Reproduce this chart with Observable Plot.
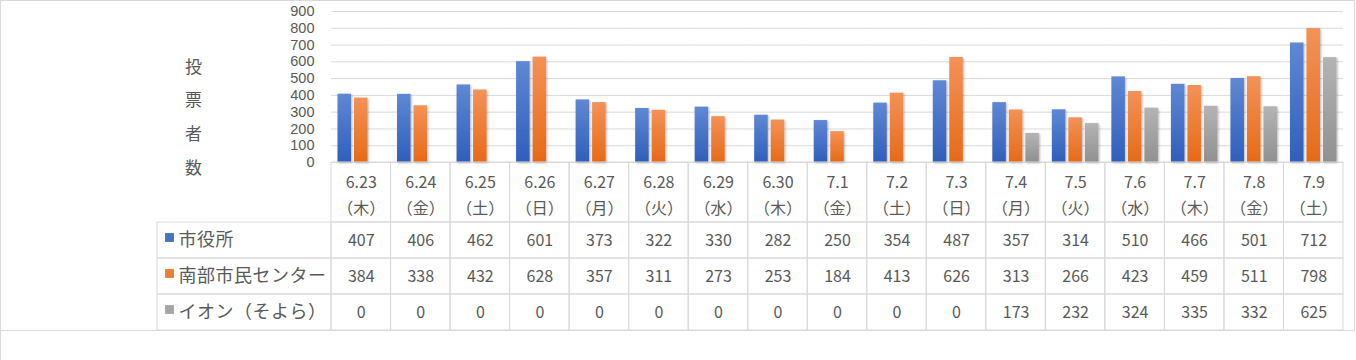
<!DOCTYPE html>
<html>
<head>
<meta charset="utf-8">
<script src="https://cdn.jsdelivr.net/npm/d3@7"></script>
<script src="https://cdn.jsdelivr.net/npm/@observablehq/plot@0.6"></script>
<style>
  html, body { margin: 0; padding: 0; background: #fff; }
  #wrap { position: relative; width: 1356px; height: 360px; background: #fff; overflow: hidden;
          font-family: "Noto Sans CJK JP", "Noto Sans", sans-serif; color: #595959; }
  #wrap > div.part { position: absolute; }
  #wrap svg { overflow: visible; }
  .border { position: absolute; left: 0; top: 0; width: 1355px; height: 331px; box-sizing: border-box;
            border: 1px solid #d9d9d9; }
  .border2 { position: absolute; left: 0; top: 330px; width: 1px; height: 30px; background: #d9d9d9; }
</style>
</head>
<body>
<div id="wrap">
  <div class="border"></div>
  <div class="border2"></div>
</div>
<script>
const dates = ["6.23","6.24","6.25","6.26","6.27","6.28","6.29","6.30","7.1","7.2","7.3","7.4","7.5","7.6","7.7","7.8","7.9"];
const weekdays = ["木","金","土","日","月","火","水","木","金","土","日","月","火","水","木","金","土"];
const seriesNames = ["市役所","南部市民センター","イオン（そよら）"];
const shiyakusho = [407,406,462,601,373,322,330,282,250,354,487,357,314,510,466,501,712];
const nanbu = [384,338,432,628,357,311,273,253,184,413,626,313,266,423,459,511,798];
const aeon = [0,0,0,0,0,0,0,0,0,0,0,173,232,324,335,332,625];
const yTicks = [0,100,200,300,400,500,600,700,800,900];
const axisTitle = "投票者数";

const baseColors = ["#4472C4","#ED7D31","#A5A5A5"];
const gradTop = ["#5F88D4","#F39257","#B4B4B4"];
const gradBottom = ["#2F5EBB","#E66A17","#909090"];

const seriesValues = [shiyakusho, nanbu, aeon];
const rows = [];
seriesNames.forEach((s, si) => dates.forEach((d, di) => rows.push({date: d, series: s, value: seriesValues[si][di], si})));

const font = '"Noto Sans CJK JP", "Noto Sans", sans-serif';
const tickFont = '"Liberation Sans", Arial, sans-serif';
const textColor = "#595959";
const gridColor = "#d9d9d9";
const wrap = document.getElementById("wrap");

function place(el, left, top) {
  const div = document.createElement("div");
  div.className = "part";
  div.style.left = left + "px";
  div.style.top = top + "px";
  div.appendChild(el);
  wrap.appendChild(div);
}

// Chart
const chart = Plot.plot({
  width: 1356, height: 180,
  marginLeft: 331, marginRight: 13, marginTop: 11, marginBottom: 18,
  style: {fontFamily: font, fontSize: "15px", color: textColor, background: "transparent", overflow: "visible"},
  fx: {domain: dates, paddingInner: 0, paddingOuter: 0, round: false, axis: null},
  x: {domain: seriesNames, paddingInner: 0.1818, paddingOuter: 0.394, round: false, axis: null},
  y: {domain: [0, 900], axis: null},
  marks: [
    Plot.gridY(yTicks, {stroke: gridColor, strokeOpacity: 1, strokeWidth: 1}),
    ...seriesNames.map((s, si) => Plot.barY(rows.filter(r => r.si === si), {
      fx: "date", x: "series", y: "value", fill: `url(#grad${si})`
    })),
    Plot.axisY(yTicks, {tickSize: 0, tickPadding: 17, fontSize: 14.5, fontFamily: tickFont, fill: textColor, label: null}),
    Plot.text([{fx: dates[0]}], {fx: "fx", text: () => axisTitle.split("").join("\n"),
      frameAnchor: "left", textAnchor: "middle", dx: -138, dy: 25.5, lineHeight: 1.99, fontSize: 17, fill: textColor})
  ]
});
const defs = d3.select(chart).insert("defs", ":first-child");
gradTop.forEach((c, i) => {
  const g = defs.append("linearGradient").attr("id", `grad${i}`).attr("x1", 0).attr("y1", 0).attr("x2", 0).attr("y2", 1);
  g.append("stop").attr("offset", "0%").attr("stop-color", c);
  g.append("stop").attr("offset", "100%").attr("stop-color", gradBottom[i]);
});
const f = defs.append("filter").attr("id", "shadow").attr("x", "-30%").attr("y", "-10%").attr("width", "160%").attr("height", "120%");
f.append("feDropShadow").attr("dx", 1).attr("dy", 1).attr("stdDeviation", 1.2).attr("flood-color", "#000").attr("flood-opacity", 0.3);
d3.select(chart).selectAll('g[aria-label="bar"] rect').attr("filter", "url(#shadow)");
place(chart, 0, 0);

// Header row (dates)
const header = Plot.plot({
  width: 1012, height: 60, margin: 0,
  style: {fontFamily: font, fontSize: "16px", color: textColor, background: "transparent", overflow: "visible"},
  x: {domain: dates, padding: 0, round: false, axis: null},
  marks: [
    Plot.cell(dates, {x: d => d, stroke: gridColor, fill: "none"}),
    Plot.text(dates, {x: d => d, text: (d, i) => `${d}\n（${weekdays[i]}）`, lineHeight: 1.625, fontSize: 16, fill: textColor})
  ]
});
place(header, 331, 162);

// Table body
const body = Plot.plot({
  width: 1012, height: 108, margin: 0,
  style: {fontFamily: font, fontSize: "16px", color: textColor, background: "transparent", overflow: "visible"},
  x: {domain: dates, padding: 0, round: false, axis: null},
  y: {domain: seriesNames, padding: 0, round: false, axis: null},
  marks: [
    Plot.cell(rows, {x: "date", y: "series", stroke: gridColor, fill: "none"}),
    Plot.text(rows, {x: "date", y: "series", text: d => String(d.value), fontSize: 16, fill: textColor})
  ]
});
place(body, 331, 222);

// Legend column
const legend = Plot.plot({
  width: 174, height: 108, margin: 0,
  style: {fontFamily: font, fontSize: "18px", color: textColor, background: "transparent", overflow: "visible"},
  y: {domain: seriesNames, padding: 0, round: false, axis: null},
  color: {domain: seriesNames, range: baseColors},
  marks: [
    Plot.cell(seriesNames, {y: d => d, stroke: gridColor, fill: "none"}),
    Plot.dot(seriesNames, {y: d => d, frameAnchor: "left", dx: 12, dy: -3, symbol: "square", r: 5, fill: d => d}),
    Plot.text(seriesNames, {y: d => d, frameAnchor: "left", dx: 21, textAnchor: "start", fontSize: 18, fill: textColor})
  ]
});
d3.select(legend).selectAll('g[aria-label="text"] text').attr("letter-spacing", "0.5px");
place(legend, 157, 222);
</script>
</body>
</html>
